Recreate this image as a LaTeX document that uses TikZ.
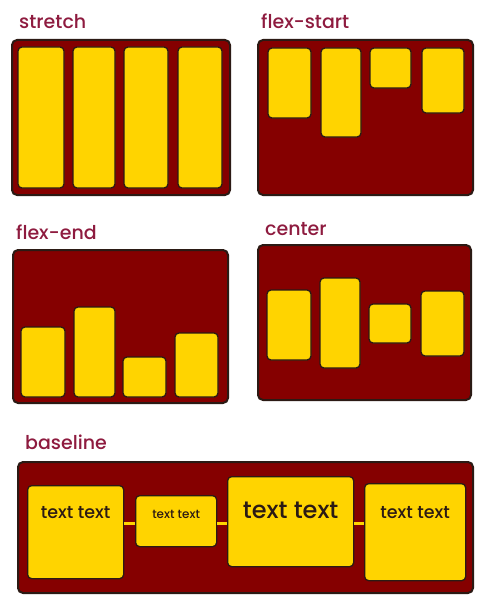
\documentclass[tikz,border=0pt]{standalone}
\usepackage{fontspec}
\newfontfamily\labelfont{Poppins Medium}
\newfontfamily\boxfont{Poppins Medium}
\definecolor{flexbg}{HTML}{850000}
\definecolor{flexitem}{HTML}{FFD400}
\definecolor{flexline}{HTML}{2B1A14}
\definecolor{flexlabel}{HTML}{8E1B3F}
\tikzset{
  container/.style={fill=flexbg,draw=flexline,line width=2pt,rounded corners=5pt},
  item/.style={fill=flexitem,draw=flexline,line width=1.3pt,rounded corners=4pt},
  title/.style={font=\labelfont\fontsize{19}{19}\selectfont,text=flexlabel,anchor=base west,inner sep=0pt},
  bitem/.style={item,anchor=north west,inner sep=0pt},
  btext/.style={font=\boxfont\fontsize{#1}{#1}\selectfont,text=flexline,anchor=base,inner sep=0pt},
  baseline line/.style={draw=flexitem,line width=3pt},
}
\begin{document}
\begin{tikzpicture}[x=1pt,y=-1pt]
  \useasboundingbox (0,0) rectangle (486,602);
  % stretch
  \node[title] (lstretch) at (19,29) {stretch};
  \draw[container] (12,40) rectangle (230,195);
  \draw[item] (18,47) rectangle (64,188);
  \draw[item] (73,47) rectangle (115,188);
  \draw[item] (124,47) rectangle (168,188);
  \draw[item] (178,47) rectangle (222,188);
  % flex-start
  \node[title] (lstart) at (261,29) {flex-start};
  \draw[container] (258,40) rectangle (473,195);
  \draw[item] (268,48) rectangle (311,118);
  \draw[item] (321,48) rectangle (361,137);
  \draw[item] (370,48) rectangle (411,88);
  \draw[item] (422,48) rectangle (464,113);
  % flex-end
  \node[title] (lend) at (16,239) {flex-end};
  \draw[container] (13,250) rectangle (228,403);
  \draw[item] (21,327) rectangle (65,397);
  \draw[item] (74,307) rectangle (115,397);
  \draw[item] (123,357) rectangle (166,397);
  \draw[item] (175,333) rectangle (218,397);
  % center
  \node[title] (lcenter) at (265,235) {center};
  \draw[container] (258,245) rectangle (471,400);
  \draw[item] (267,290) rectangle (311,360);
  \draw[item] (320,278) rectangle (360,368);
  \draw[item] (369,304) rectangle (411,343);
  \draw[item] (421,291) rectangle (464,356);
  % baseline
  \node[title] (lbase) at (25,449) {baseline};
  \draw[container] (18,462) rectangle (473,593);
  \coordinate (bl) at (0,518);
  \coordinate (ln) at (0,523);
  \node[bitem,minimum width=96pt,minimum height=93pt] (b1) at (27,485) {};
  \node[bitem,minimum width=81pt,minimum height=51pt] (b2) at (135,495) {};
  \node[bitem,minimum width=126pt,minimum height=90pt] (b3) at (227,476) {};
  \node[bitem,minimum width=101pt,minimum height=97pt] (b4) at (364,483) {};
  \draw[baseline line] (b1.east |- ln) -- (b2.west |- ln);
  \draw[baseline line] (b2.east |- ln) -- (b3.west |- ln);
  \draw[baseline line] (b3.east |- ln) -- (b4.west |- ln);
  \node[btext=17.5] (t1) at (b1.center |- bl) {text text};
  \node[btext=12] (t2) at (b2.center |- bl) {text text};
  \node[btext=24] (t3) at (b3.center |- bl) {text text};
  \node[btext=17.5] (t4) at (b4.center |- bl) {text text};
\end{tikzpicture}
\end{document}
